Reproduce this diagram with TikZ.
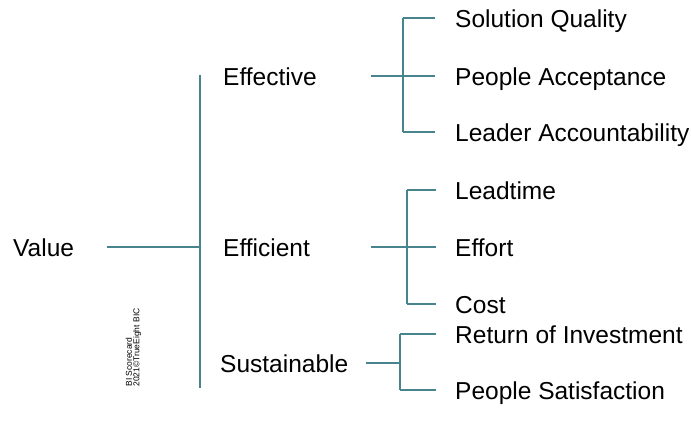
\documentclass[tikz,border=0pt]{standalone}
\usepackage{fontspec}
\usepackage{xcolor}
\setmainfont{Liberation Sans}
\definecolor{tealline}{RGB}{72,132,142}

\begin{document}
\begin{tikzpicture}[x=1pt, y=-1pt,
    txt/.style={anchor=base west, inner sep=0pt, font=\fontsize{24.5}{28}\selectfont},
    link/.style={draw=tealline, line width=1.3pt}]
  \useasboundingbox (0,0) rectangle (692,434);

  % root and the three branches
  \node[txt] (value) at (13,256) {Value};
  \node[txt] (effective) at (223,85) {Effective};
  \node[txt] (efficient) at (223,256) {Efficient};
  \node[txt] (sustainable) at (220,372) {Sustainable};

  % leaves
  \node[txt] (quality) at (455,27) {Solution Quality};
  \node[txt] (acceptance) at (455,85) {People Acceptance};
  \node[txt] (accountability) at (455,141) {Leader Accountability};
  \node[txt] (leadtime) at (455,199) {Leadtime};
  \node[txt] (effort) at (455,256) {Effort};
  \node[txt] (cost) at (455,313) {Cost};
  \node[txt] (roi) at (455,343) {Return of Investment};
  \node[txt] (satisfaction) at (455,399) {People Satisfaction};

  % small rotated note
  \node[rotate=90, align=left, inner sep=0pt, font=\fontsize{8.5}{7.5}\selectfont]
    (note) at (133.5,347.5) {BI Scorecard\\2021\textcopyright TrueEight BIC};

  % main bracket
  \coordinate (root) at (200,247);
  \draw[link] ([xshift=33pt]value.east |- root) -- (root);
  \draw[link] (200,75) -- (200,388);

  % Effective bracket
  \coordinate (effspine) at (403,76);
  \draw[link] (371,76) -- (effspine);
  \draw[link] (403,18) -- (403,132);
  \foreach \leaf/\y in {quality/18, acceptance/76, accountability/132}
    \draw[link] (403,\y) -- ([xshift=-20pt]\leaf.west |- 0,\y);

  % Efficient bracket
  \coordinate (efispine) at (407,247);
  \draw[link] (371,247) -- (efispine);
  \draw[link] (407,190) -- (407,304);
  \foreach \leaf/\y in {leadtime/190, effort/247, cost/304}
    \draw[link] (407,\y) -- ([xshift=-19pt]\leaf.west |- 0,\y);

  % Sustainable bracket
  \coordinate (susspine) at (400,363);
  \draw[link] (366,363) -- (susspine);
  \draw[link] (400,334) -- (400,390);
  \foreach \leaf/\y in {roi/334, satisfaction/390}
    \draw[link] (400,\y) -- ([xshift=-19pt]\leaf.west |- 0,\y);
\end{tikzpicture}
\end{document}
